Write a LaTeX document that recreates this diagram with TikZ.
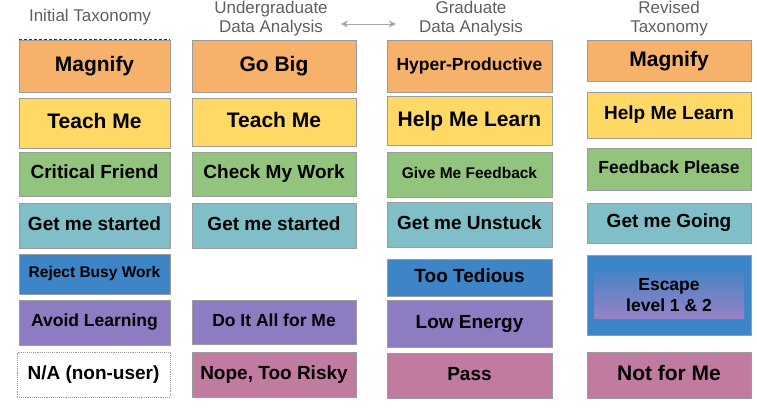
\documentclass[tikz,border=0pt]{standalone}
\usepackage{fontspec}
\setmainfont{Liberation Sans}
\usepackage{xcolor}
\usetikzlibrary{arrows.meta}

\definecolor{cOrange}{HTML}{F6B26B}
\definecolor{cYellow}{HTML}{FFD966}
\definecolor{cGreen}{HTML}{93C47D}
\definecolor{cTeal}{HTML}{80BFC7}
\definecolor{cBlue}{HTML}{3D85C6}
\definecolor{cPurple}{HTML}{8E7CC3}
\definecolor{cPink}{HTML}{C27BA0}
\definecolor{cEdge}{HTML}{9C9C9C}
\definecolor{cHead}{HTML}{5F5F5F}

\begin{document}
\begin{tikzpicture}[x=1pt,y=-1pt]
        \tikzset{card/.style={draw=cEdge,line width=0.9pt,inner sep=0pt},
            big/.style={font=\fontsize{21}{24}\selectfont\bfseries,text height=15pt,text depth=4pt},
            mid/.style={font=\fontsize{19}{22}\selectfont\bfseries,text height=14pt,text depth=4.4pt},
            sml/.style={font=\fontsize{17.5}{21}\selectfont\bfseries,text height=13pt,text depth=4.5pt},
            tiny/.style={font=\fontsize{15.5}{18}\selectfont\bfseries,text height=11.5pt,text depth=4.4pt},
            colA/.style={minimum width=151pt},
            colB/.style={minimum width=164pt},
            colC/.style={minimum width=165pt},
            colD/.style={minimum width=164pt},
            hdr/.style={text=cHead,align=center,inner sep=0pt,
                font=\fontsize{17}{19.5}\selectfont}}
        \useasboundingbox (0,0) rectangle (757,410);
        % headers
        \node[hdr] (init) at (90,17) {Initial Taxonomy};
        \node[hdr] (ugrad) at (271,18.5) {Undergraduate\\Data Analysis};
        \node[hdr] (grad) at (471,18.5) {Graduate\\Data Analysis};
        \node[hdr] (rev) at (669,18.5) {Revised\\Taxonomy};
        \draw[cEdge!90,line width=0.9pt,{Stealth[length=7pt,width=7pt]}-{Stealth[length=7pt,width=7pt]},
            shorten <=13pt,shorten >=23pt]
            ([yshift=-5.5pt]ugrad.east) -- ([yshift=-5.5pt]grad.west);
        % initial taxonomy
        \node[card,colA,big,fill=cOrange,minimum height=52pt] (magA) at (94.5,66) {Magnify};
        \node[card,colA,big,fill=cYellow,minimum height=50pt] (teachA) at (94.5,123) {Teach Me};
        \node[card,colA,mid,fill=cGreen,minimum height=44pt] (critA) at (94.5,174) {Critical Friend};
        \node[card,colA,mid,fill=cTeal,minimum height=45pt] (startA) at (94.5,225.5) {Get me started};
        \node[card,colA,tiny,fill=cBlue,minimum height=40pt] (busyA) at (94.5,274) {Reject Busy Work};
        \node[card,colA,sml,fill=cPurple,minimum height=45pt] (avoidA) at (94.5,322.5) {Avoid Learning};
        \node[card,mid,fill=white,densely dotted,minimum width=153pt,minimum height=45pt] (naA) at (93.5,374.5) {N/A (non-user)};
        \draw[black!80,densely dashed,line width=0.7pt] (magA.north west) -- (magA.north east);
        % undergraduate
        \node[card,colB,big,fill=cOrange,minimum height=52pt] (bigB) at (274,66) {Go Big};
        \node[card,colB,big,fill=cYellow,minimum height=48pt] (teachB) at (274,122) {Teach Me};
        \node[card,colB,mid,fill=cGreen,minimum height=44pt] (checkB) at (274,174) {Check My Work};
        \node[card,colB,mid,fill=cTeal,minimum height=45pt] (startB) at (274,225.5) {Get me started};
        \node[card,colB,sml,fill=cPurple,minimum height=44pt] (allB) at (274,322) {Do It All for Me};
        \node[card,colB,mid,fill=cPink,minimum height=45pt] (riskyB) at (274,374.5) {Nope, Too Risky};
        % graduate
        \node[card,colC,sml,fill=cOrange,minimum height=52pt] (hypC) at (469.5,66) {Hyper-Productive};
        \node[card,colC,big,fill=cYellow,minimum height=49pt] (helpC) at (469.5,120.5) {Help Me Learn};
        \node[card,colC,tiny,fill=cGreen,minimum height=45pt] (feedC) at (469.5,174.8) {Give Me Feedback};
        \node[card,colC,mid,fill=cTeal,minimum height=45pt] (stuckC) at (469.5,225) {Get me Unstuck};
        \node[card,colC,mid,fill=cBlue,minimum height=37pt] (tedC) at (469.5,277.5) {Too Tedious};
        \node[card,colC,mid,fill=cPurple,minimum height=47pt] (lowC) at (469.5,323.5) {Low Energy};
        \node[card,colC,mid,fill=cPink,minimum height=45pt] (passC) at (469.5,375.5) {Pass};
        % revised
        \node[card,colD,big,fill=cOrange,minimum height=41pt] (magD) at (669,60.5) {Magnify};
        \node[card,colD,mid,fill=cYellow,minimum height=46pt] (helpD) at (669,115) {Help Me Learn};
        \node[card,colD,sml,fill=cGreen,minimum height=42pt] (feedD) at (669,169) {Feedback Please};
        \node[card,colD,mid,fill=cTeal,minimum height=40pt] (goD) at (669,223) {Get me Going};
        \node[card,colD,fill=cBlue,minimum height=80.5pt] (escD) at (669,295.5) {};
        \node[font=\fontsize{17.5}{21}\selectfont\bfseries,align=center,inner sep=0pt,minimum width=150pt,minimum height=46pt,
            top color=cBlue!85!cPurple,bottom color=cPurple!95!white] (escIn) at (669,295) {Escape\\level 1 \& 2};
        \node[card,colD,big,fill=cPink,minimum height=46pt] (notD) at (669,375) {Not for Me};
\end{tikzpicture}
\end{document}
